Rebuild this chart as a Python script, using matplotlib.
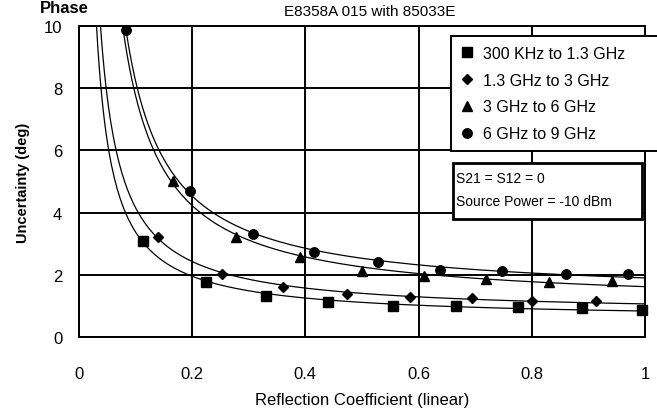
import matplotlib
matplotlib.use('Agg')
import matplotlib.pyplot as plt
from matplotlib.patches import Rectangle
import numpy as np

plt.rcParams['font.family'] = ['Liberation Sans', 'DejaVu Sans']

# marker values
labels = ['300 KHz to 1.3 GHz', '1.3 GHz to 3 GHz', '3 GHz to 6 GHz', '6 GHz to 9 GHz']
markers = ['s', 'D', '^', 'o']
msizes = [6.5, 5.2, 6.5, 6.8]

sq_x = [0.113, 0.224, 0.331, 0.44, 0.554, 0.667, 0.775, 0.888, 0.995]
sq_y = [3.1, 1.77, 1.32, 1.13, 1.0, 1.0, 0.97, 0.93, 0.87]
dm_x = [0.14, 0.252, 0.36, 0.473, 0.584, 0.694, 0.801, 0.914]
dm_y = [3.22, 2.03, 1.6, 1.39, 1.29, 1.26, 1.16, 1.16]
tr_x = [0.166, 0.278, 0.39, 0.5, 0.61, 0.72, 0.831, 0.942]
tr_y = [5.03, 3.22, 2.58, 2.13, 1.97, 1.87, 1.78, 1.8]
ci_x = [0.083, 0.196, 0.307, 0.416, 0.528, 0.637, 0.748, 0.861, 0.97]
ci_y = [9.87, 4.68, 3.32, 2.74, 2.4, 2.17, 2.13, 2.03, 2.03]

# x where each trend curve leaves the top of the plot (y = 10)
top_x = [0.031, 0.038, 0.077, 0.082]

xs = [sq_x, dm_x, tr_x, ci_x]
ys = [sq_y, dm_y, tr_y, ci_y]

xticks = [0, 0.2, 0.4, 0.6, 0.8, 1]
xticklabels = ['0', '0.2', '0.4', '0.6', '0.8', '1']
yticks = [0, 2, 4, 6, 8, 10]

fig = plt.figure(figsize=(6.57, 4.14), dpi=100)
ax = fig.add_axes([0.1202, 0.1836, 0.8615, 0.7512])

for x, y, tx, m, ms, lab in zip(xs, ys, top_x, markers, msizes, labels):
    # trend line fitted through the read points, as in the original
    fx = np.array([tx] + list(x))
    fy = np.array([10.0] + list(y))
    c = np.polyfit(1 / fx, fy, 2)
    xx = np.linspace(tx * 0.92, 1.0, 400)
    ax.plot(xx, np.polyval(c, 1 / xx), color='black', lw=0.9, zorder=3)
    ax.plot(x, y, linestyle='none', marker=m, ms=ms, color='black',
            label=lab, zorder=4, clip_on=False)

ax.set_xlim(0, 1)
ax.set_ylim(0, 10)
ax.set_xticks(xticks)
ax.set_xticklabels(xticklabels)
ax.set_yticks(yticks)
ax.tick_params(length=0, labelsize=12)
ax.tick_params(axis='x', pad=21)
ax.tick_params(axis='y', pad=12)
ax.grid(True, color='black', lw=1.4)
ax.set_axisbelow(True)
for s in ax.spines.values():
    s.set_linewidth(1.4)

ax.set_xlabel('Reflection Coefficient (linear)', fontsize=12, labelpad=8)
ax.set_ylabel('Uncertainty (deg)', fontsize=10.5, fontweight='bold', labelpad=10)

leg = ax.legend(loc='upper left', bbox_to_anchor=(0.657, 0.588, 0.4, 0.38),
                mode='expand', fontsize=11.5, frameon=True, fancybox=False,
                edgecolor='black', framealpha=1, borderaxespad=0,
                handlelength=0.8, handletextpad=0.6, labelspacing=0.75,
                borderpad=0.6)
leg.get_frame().set_linewidth(1.4)
leg.set_zorder(6)

ax.add_patch(Rectangle((0.661, 0.379), 0.334, 0.18, transform=ax.transAxes,
                       facecolor='white', edgecolor='black', lw=2, zorder=6))
ax.text(0.667, 0.511, 'S21 = S12 = 0', transform=ax.transAxes,
        fontsize=10, va='center', zorder=7)
ax.text(0.667, 0.437, 'Source Power = -10 dBm', transform=ax.transAxes,
        fontsize=10, va='center', zorder=7)

fig.text(0.563, 0.97, 'E8358A 015 with 85033E', fontsize=11, ha='center', va='center')
fig.text(0.06, 0.998, 'Phase', fontsize=12, fontweight='bold', ha='left', va='top')

fig.savefig('out.png', dpi=100)
